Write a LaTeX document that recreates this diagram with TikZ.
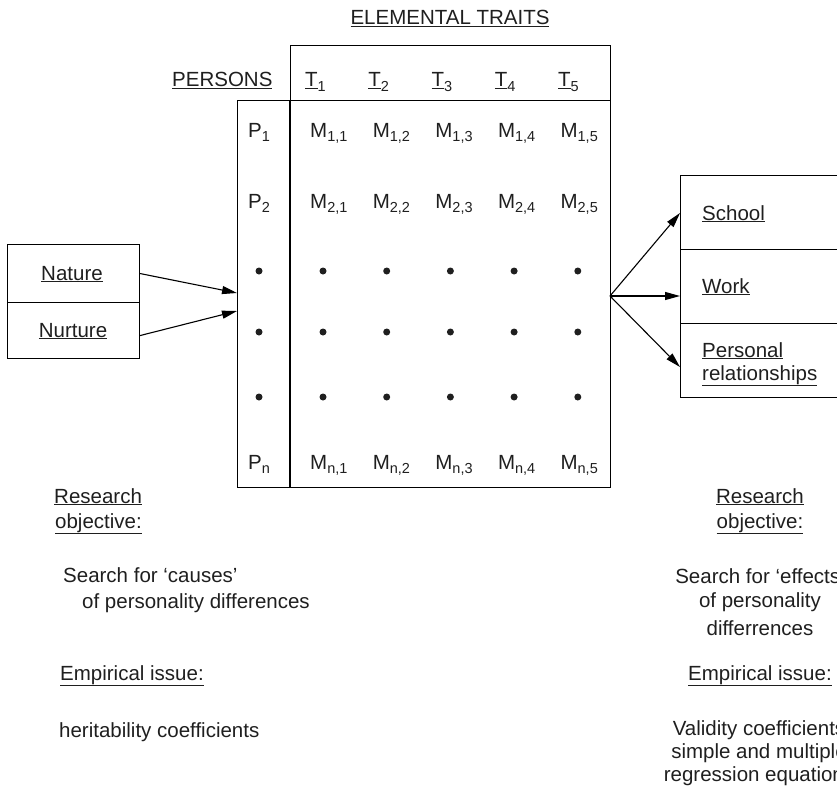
\documentclass[tikz,border=0pt]{standalone}
\usepackage{fontspec}
\setmainfont{Liberation Sans}
\usetikzlibrary{arrows.meta}
\newcommand\sbx[1]{\raisebox{-4.5pt}{\fontsize{14.5}{14.5}\selectfont #1}}
\begin{document}
\begin{tikzpicture}[x=1pt,y=-1pt,
  txt/.style={inner sep=0pt, text=black!88, font=\fontsize{20.5}{24}\selectfont},
  boxx/.style={draw, line width=1.1pt, inner sep=0pt, anchor=north west},
  arr/.style={line width=1.1pt, -{Triangle[length=15pt,width=8pt]}},
  dotm/.style={circle, fill=black!88, inner sep=0pt, minimum size=7pt}]
\useasboundingbox (0,0) rectangle (837,789);

% matrix boxes
\node[boxx, line width=1.2pt, minimum width=320pt, minimum height=55pt] (hdr) at (290,45) {};
\node[boxx, line width=1.3pt, minimum width=373pt, minimum height=387pt] (mat) at (237,100) {};
\draw[line width=1.1pt] (hdr.south west) -- (hdr.south west |- mat.south);

% headings
\node[txt, anchor=base] (elem) at (450,25) {\underline{ELEMENTAL TRAITS}};
\node[txt, anchor=base west] (pers) at (172,87) {\underline{PERSONS}};
\foreach \j in {1,...,5} {
  \node[txt, anchor=base west] (t\j) at ({305+63.2*(\j-1)},87) {\underline{T}\sbx{\j}};
}

% rows
\node[txt, anchor=base west] (p1) at (248,137) {P\sbx{1}};
\node[txt, anchor=base west] (p2) at (248,208) {P\sbx{2}};
\node[txt, anchor=base west] (pn) at (248,469) {P\sbx{n}};
\foreach \j in {1,...,5} {
  \node[txt, anchor=base west] (m1\j) at ({310+62.6*(\j-1)},137) {M\sbx{1,\j}};
  \node[txt, anchor=base west] (m2\j) at ({310+62.6*(\j-1)},208) {M\sbx{2,\j}};
  \node[txt, anchor=base west] (mn\j) at ({310+62.6*(\j-1)},469) {M\sbx{n,\j}};
}
\foreach \r/\y in {a/271,b/332,c/397} {
  \node[dotm] (dp\r) at (259,\y) {};
  \foreach \j in {1,...,5} {
    \node[dotm] (d\r\j) at ({323+63.7*(\j-1)},\y) {};
  }
}

% left boxes
\node[boxx, minimum width=132pt, minimum height=58pt] (nat) at (7,244) {};
\node[boxx, minimum width=132pt, minimum height=56pt] (nur) at (7,302) {};
\node[txt, anchor=base] (natl) at (72,280) {\underline{Nature}};
\node[txt, anchor=base] (nurl) at (73,337) {\underline{Nurture}};
\coordinate (in1) at (237,293);
\coordinate (in2) at (237,311);
\draw[arr] (nat.east) -- (in1);
\draw[arr] ([yshift=-5pt]nur.east) -- (in2);

% right boxes
\node[boxx, minimum width=220pt, minimum height=74pt] (sch) at (680,175) {};
\node[boxx, minimum width=220pt, minimum height=74pt] (wrk) at (680,249) {};
\node[boxx, minimum width=220pt, minimum height=74pt] (prs) at (680,323) {};
\node[txt, anchor=base west] (schl) at (702,220) {\underline{School}};
\node[txt, anchor=base west] (wrkl) at (702,293) {\underline{Work}};
\node[txt, anchor=base west] (prsl1) at (702,357) {\underline{Personal}};
\node[txt, anchor=base west] (prsl2) at (702,380) {\underline{relationships}};
\coordinate (src) at (610,296);
\coordinate (o1) at (680,213);
\coordinate (o2) at (680,296);
\coordinate (o3) at (680,367);
\draw[arr] (src) -- (o1);
\draw[arr] (src) -- (o2);
\draw[arr] (src) -- (o3);

% bottom left texts
\node[txt, anchor=base west] (lr1) at (54,503) {\underline{Research}};
\node[txt, anchor=base west] (lr2) at (55,528) {\underline{objective:}};
\node[txt, anchor=base west] (ls1) at (63,582) {Search for ‘causes’};
\node[txt, anchor=base west] (ls2) at (82,608) {of personality differences};
\node[txt, anchor=base west] (le) at (60,680) {\underline{Empirical issue:}};
\node[txt, anchor=base west] (lh) at (59,737) {heritability coefficients};

% bottom right texts
\node[txt, anchor=base] (rr1) at (760,503) {\underline{Research}};
\node[txt, anchor=base] (rr2) at (760,528) {\underline{objective:}};
\node[txt, anchor=base] (rs1) at (760,583) {Search for ‘effects’};
\node[txt, anchor=base] (rs2) at (760,607) {of personality};
\node[txt, anchor=base] (rs3) at (760,635) {differrences};
\node[txt, anchor=base] (re) at (760,680) {\underline{Empirical issue:}};
\node[txt, anchor=base] (rv1) at (759,735) {Validity coefficients};
\node[txt, anchor=base] (rv2) at (759,758) {simple and multiple};
\node[txt, anchor=base] (rv3) at (759,781) {regression equations};
\end{tikzpicture}
\end{document}
